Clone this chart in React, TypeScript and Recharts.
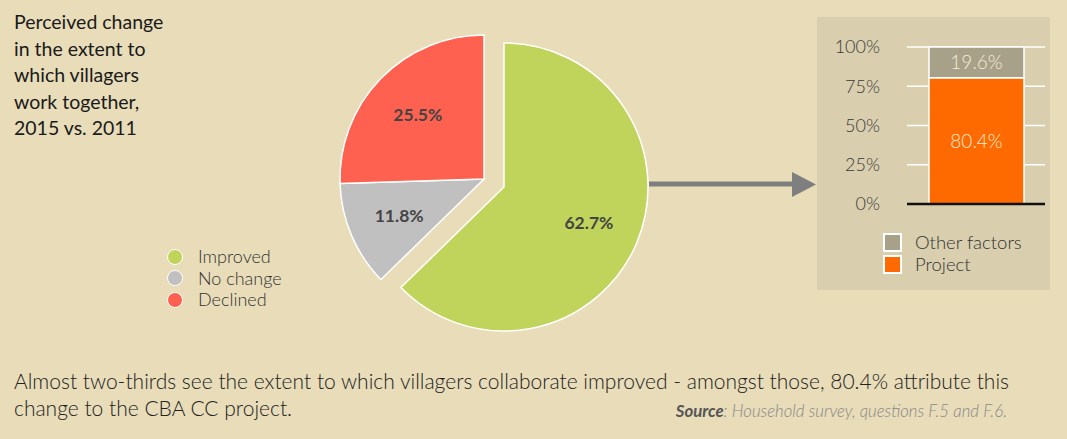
import React from "react";
import { Bar, BarChart, CartesianGrid, Cell, LabelList, Pie, PieChart, ReferenceLine, YAxis } from "recharts";

const pieNames = ["Improved", "No change", "Declined"];
const pieValues = [62.7, 11.8, 25.5];
const pieColors = ["#c0d35a", "#c0c0c0", "#ff6150"];

const barCategories = ["Improved"];
const projectShare = [80.4];
const otherShare = [19.6];
const barTicks = [0, 25, 50, 75, 100];
const barSeries = ["Other factors", "Project"];
const barColors = ["#a8a18a", "#ff6a00"];

const pieData = pieNames.map((name, i) => ({ name, value: pieValues[i] }));
const barData = barCategories.map((name, i) => ({ name, project: projectShare[i], other: otherShare[i] }));

const FONT = "Lato, 'Open Sans', sans-serif";
const RAD = Math.PI / 180;

const pieLabel = (p: any) => {
    const r = p.outerRadius * 0.64;
    const x = p.cx + r * Math.cos(-p.midAngle * RAD);
    const y = p.cy + r * Math.sin(-p.midAngle * RAD);
    return (
        <text x={x} y={y} fill="#444" fontSize={17.5} fontWeight={700} fontFamily={FONT} textAnchor="middle" dominantBaseline="central">
            {`${p.value}%`}
        </text>
    );
};

export default function App() {
    return (
        <div style={{ position: "absolute", left: 0, top: 0, width: 1067, height: 439, background: "#e8dcb9", fontFamily: FONT, overflow: "hidden" }}>
            <div style={{ position: "absolute", left: 14, top: 9, fontSize: 19.5, lineHeight: "26.5px", color: "#1a1a1a" }}>
                Perceived change
                <br />
                in the extent to
                <br />
                which villagers
                <br />
                work together,
                <br />
                2015 vs. 2011
            </div>

            <div style={{ position: "absolute", left: 0, top: 0 }}>
                <PieChart width={660} height={350} margin={{ top: 0, right: 0, bottom: 0, left: 0 }}>
                    <Pie data={pieData} dataKey="value" cx={484} cy={179} outerRadius={144} startAngle={90} endAngle={-270} stroke="#fff" strokeWidth={1.5} label={(p: any) => (p.index === 0 ? <g /> : pieLabel(p))} labelLine={false} isAnimationActive={false}>
                        {pieData.map((d, i) => (
                            <Cell key={d.name} fill={i === 0 ? "none" : pieColors[i]} stroke={i === 0 ? "none" : "#fff"} />
                        ))}
                    </Pie>
                    <Pie data={pieData} dataKey="value" cx={504} cy={187} outerRadius={144} startAngle={90} endAngle={-270} stroke="#fff" strokeWidth={1.5} label={(p: any) => (p.index === 0 ? pieLabel(p) : <g />)} labelLine={false} isAnimationActive={false}>
                        {pieData.map((d, i) => (
                            <Cell key={d.name} fill={i === 0 ? pieColors[0] : "none"} stroke={i === 0 ? "#fff" : "none"} />
                        ))}
                    </Pie>
                </PieChart>
            </div>

            <div style={{ position: "absolute", left: 167, top: 246, fontSize: 18, color: "#333", lineHeight: "21.5px", fontWeight: 300 }}>
                {pieNames.map((n, i) => (
                    <div key={n} style={{ display: "flex", alignItems: "center" }}>
                        <span style={{ width: 16, height: 16, borderRadius: "50%", background: pieColors[i], border: "1.5px solid #fff", boxSizing: "border-box", marginRight: 15 }} />
                        {n}
                    </div>
                ))}
            </div>

            <svg style={{ position: "absolute", left: 0, top: 0 }} width={1067} height={439}>
                <line x1={649} y1={184} x2={794} y2={184} stroke="#7f7f7f" strokeWidth={5} />
                <polygon points="792,172 816,184.5 792,197" fill="#7f7f7f" />
            </svg>

            <div style={{ position: "absolute", left: 817, top: 17, width: 233, height: 273, background: "#d9ceae" }}>
                <BarChart width={233} height={273} data={barData} margin={{ top: 30, right: 5, left: 0, bottom: 86 }} barSize={95}>
                    <CartesianGrid vertical={false} stroke="#fff" strokeWidth={1.5} />
                    <YAxis domain={[0, 100]} ticks={barTicks} tickFormatter={(v: number) => `${v}%`} axisLine={false} tickLine={false} tickSize={0} tickMargin={27} width={90} tick={{ fontSize: 18, fill: "#3a3a3a", fontFamily: FONT, fontWeight: 300 }} />
                    <ReferenceLine y={0} stroke="#111" strokeWidth={2.5} />
                    <Bar dataKey="project" stackId="a" fill={barColors[1]} stroke="#fff" strokeWidth={1.5} isAnimationActive={false}>
                        <LabelList dataKey="project" position="center" formatter={(v: any) => `${v}%`} fill="#f7ecd2" fontSize={19} fontWeight={300} fontFamily={FONT} />
                    </Bar>
                    <Bar dataKey="other" stackId="a" fill={barColors[0]} stroke="#fff" strokeWidth={1.5} isAnimationActive={false}>
                        <LabelList dataKey="other" position="center" formatter={(v: any) => `${v}%`} fill="#f7ecd2" fontSize={19} fontWeight={300} fontFamily={FONT} />
                    </Bar>
                </BarChart>
                <div style={{ position: "absolute", left: 66, top: 215, fontSize: 18.5, color: "#333", lineHeight: "21.5px", fontWeight: 300 }}>
                    {barSeries.map((n, i) => (
                        <div key={n} style={{ display: "flex", alignItems: "center" }}>
                            <span style={{ width: 19, height: 19, background: barColors[i], border: "2px solid #fff", boxSizing: "border-box", marginRight: 13 }} />
                            {n}
                        </div>
                    ))}
                </div>
            </div>

            <div style={{ position: "absolute", left: 14, top: 367, fontSize: 21, lineHeight: "27px", color: "#222", fontWeight: 300 }}>
                Almost two-thirds see the extent to which villagers collaborate improved - amongst those, 80.4% attribute this
                <br />
                change to the CBA CC project.
            </div>
            <div style={{ position: "absolute", right: 60, top: 400, fontSize: 16.8, fontStyle: "italic", color: "#888", fontWeight: 300 }}>
                <span style={{ fontWeight: 700, color: "#555" }}>Source</span>: Household survey, questions F.5 and F.6.
            </div>
        </div>
    );
}
